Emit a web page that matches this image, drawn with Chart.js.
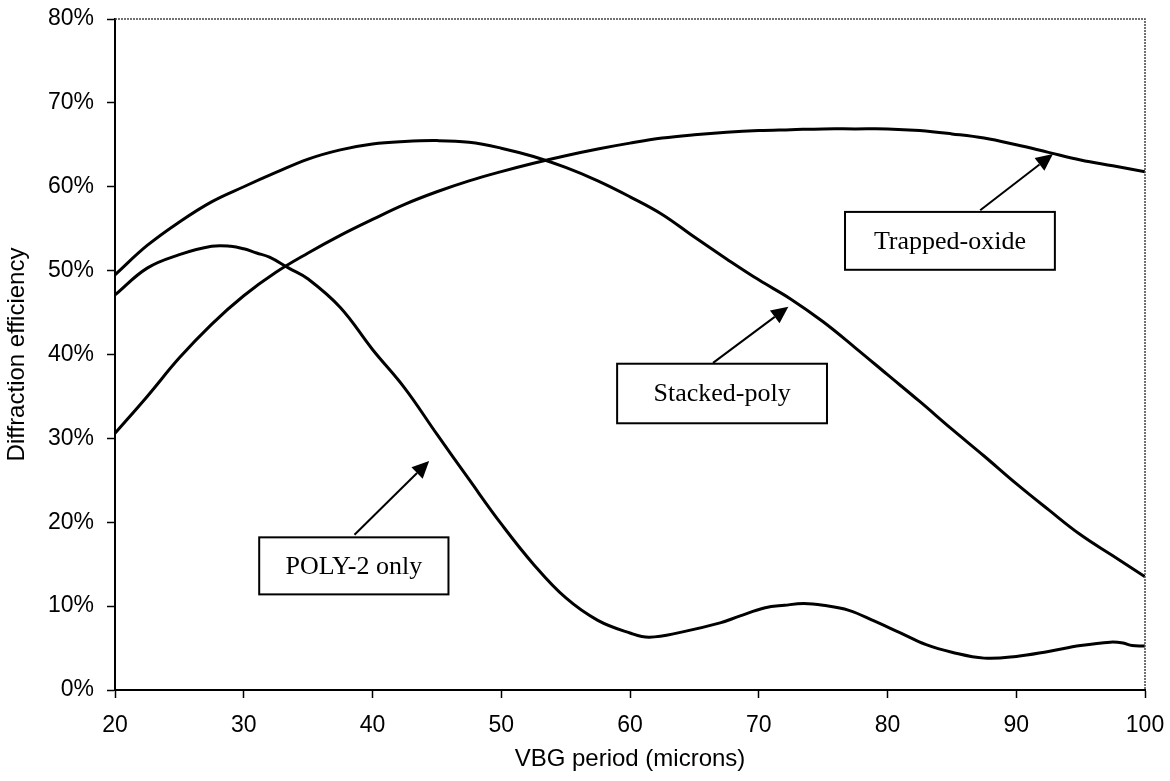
<!DOCTYPE html>
<html>
<head>
<meta charset="utf-8">
<script src="https://cdn.jsdelivr.net/npm/chart.js@4.4.0/dist/chart.umd.min.js"></script>
<style>
  html, body { margin: 0; padding: 0; background: #fff; }
  #wrap { width: 1170px; height: 781px; }
</style>
</head>
<body>
<div id="wrap"><canvas id="graph-line"></canvas></div>
<script>
// VBG period (microns) and diffraction efficiency (%)
const periods = [20, 22.5, 25, 27.5, 30, 32.5, 35, 37.5, 40, 42.5, 45, 47.5, 50, 52.5, 55, 57.5,
  60, 62.5, 65, 67.5, 70, 72.5, 75, 77.5, 80, 82.5, 85, 87.5, 90, 92.5, 95, 97.5, 100]

const stackedPoly = [49.5, 53.0, 55.8, 58.2, 60.0, 61.7, 63.3, 64.4, 65.1, 65.4, 65.5, 65.3, 64.6, 63.6, 62.3, 60.7,
  58.8, 56.7, 54.0, 51.4, 48.9, 46.6, 43.9, 40.8, 37.6, 34.4, 31.1, 27.9, 24.6, 21.5, 18.5, 16.0, 13.5]

const trappedOxide = [30.6, 35.0, 39.6, 43.6, 47.0, 49.8, 52.1, 54.2, 56.1, 57.9, 59.4, 60.7, 61.8, 62.8, 63.7, 64.5,
  65.2, 65.8, 66.2, 66.5, 66.7, 66.8, 66.9, 66.9, 66.9, 66.7, 66.3, 65.8, 65.0, 64.1, 63.2, 62.5, 61.8]

const poly2Periods = [20, 22.5, 25, 27.5, 29, 30, 31, 32, 33.5, 35, 37.5, 40, 42.5, 45, 47.5, 50, 52.5, 55, 57.5,
  60, 61.5, 64, 67, 68.5, 70.5, 72, 73.5, 75, 77, 79, 81, 83, 85, 87.5, 90, 92.5, 95, 97.3, 98.3, 99, 100]

const poly2Only = [47.1, 50.3, 51.9, 52.9, 52.9, 52.6, 52.1, 51.6, 50.3, 49.0, 45.6, 40.6, 36.0, 30.5, 25.1, 19.8, 15.0, 11.0, 8.3,
  6.8, 6.3, 6.9, 8.0, 8.8, 9.8, 10.1, 10.3, 10.1, 9.5, 8.2, 6.8, 5.4, 4.5, 3.8, 4.0, 4.6, 5.3, 5.7, 5.6, 5.3, 5.25]

const yTicks = [0, 10, 20, 30, 40, 50, 60, 70, 80]

function toPoints(xs, ys) {
  return xs.map((x, i) => ({x: x, y: ys[i]}))
}

// callout boxes, in data units
const callouts = [
  {text: 'Trapped-oxide', box: [76.7, 57.0, 93.0, 50.1], from: [87.2, 57.2], to: [92.85, 63.9]},
  {text: 'Stacked-poly', box: [59.0, 38.9, 75.3, 31.8], from: [66.45, 39.0], to: [72.3, 45.7]},
  {text: 'POLY-2 only', box: [31.2, 18.2, 45.9, 11.4], from: [38.6, 18.5], to: [44.4, 27.3]}
]

const calloutPlugin = {
  id: 'callouts',
  afterDatasetsDraw(chart) {
    const ctx = chart.ctx
    const xs = chart.scales.x
    const ys = chart.scales.y
    const a = chart.chartArea

    // top and right frame
    ctx.save()
    ctx.strokeStyle = '#444'
    ctx.lineWidth = 1.5
    ctx.setLineDash([2, 1])
    ctx.beginPath()
    ctx.moveTo(a.left, a.top)
    ctx.lineTo(a.right, a.top)
    ctx.lineTo(a.right, a.bottom)
    ctx.stroke()
    ctx.restore()

    callouts.forEach(c => {
      const x1 = xs.getPixelForValue(c.box[0]), y1 = ys.getPixelForValue(c.box[1])
      const x2 = xs.getPixelForValue(c.box[2]), y2 = ys.getPixelForValue(c.box[3])
      const fx = xs.getPixelForValue(c.from[0]), fy = ys.getPixelForValue(c.from[1])
      const tx = xs.getPixelForValue(c.to[0]), ty = ys.getPixelForValue(c.to[1])

      ctx.save()
      // arrow shaft
      const ang = Math.atan2(ty - fy, tx - fx)
      const headLen = 17, headW = 8
      const bx = tx - headLen * Math.cos(ang), by = ty - headLen * Math.sin(ang)
      ctx.strokeStyle = '#000'
      ctx.lineWidth = 2
      ctx.beginPath()
      ctx.moveTo(fx, fy)
      ctx.lineTo(bx, by)
      ctx.stroke()
      // arrow head
      ctx.fillStyle = '#000'
      ctx.beginPath()
      ctx.moveTo(tx, ty)
      ctx.lineTo(bx + headW * Math.sin(ang), by - headW * Math.cos(ang))
      ctx.lineTo(bx - headW * Math.sin(ang), by + headW * Math.cos(ang))
      ctx.closePath()
      ctx.fill()

      // box
      ctx.fillStyle = '#fff'
      ctx.fillRect(x1, y1, x2 - x1, y2 - y1)
      ctx.lineWidth = 2
      ctx.strokeRect(x1, y1, x2 - x1, y2 - y1)
      ctx.fillStyle = '#000'
      ctx.font = '26px "Liberation Serif", "Times New Roman", serif'
      ctx.textAlign = 'center'
      ctx.textBaseline = 'middle'
      ctx.fillText(c.text, (x1 + x2) / 2, (y1 + y2) / 2 + 1)
      ctx.restore()
    })
  }
}

const lineStyle = {
  borderColor: '#000',
  borderWidth: 3,
  pointRadius: 0,
  fill: false,
  tension: 0.4
}

const data = {
  datasets: [
    Object.assign({label: 'Stacked-poly', data: toPoints(periods, stackedPoly)}, lineStyle),
    Object.assign({label: 'Trapped-oxide', data: toPoints(periods, trappedOxide)}, lineStyle),
    Object.assign({label: 'POLY-2 only', data: toPoints(poly2Periods, poly2Only)}, lineStyle)
  ]
}

const tickFont = {family: '"Liberation Sans", Arial, sans-serif', size: 23}
const titleFont = {family: '"Liberation Sans", Arial, sans-serif', size: 24}

const config = {
  type: 'line',
  data: data,
  options: {
    responsive: true,
    maintainAspectRatio: false,
    animation: false,
    layout: {padding: {top: 19, right: 25, left: 0, bottom: 0}},
    plugins: {legend: {display: false}, tooltip: {enabled: false}},
    scales: {
      x: {
        type: 'linear',
        min: 20,
        max: 100,
        afterFit(scale) {
          scale.height = 91
          scale.paddingLeft = 0
          scale.paddingRight = 0
        },
        ticks: {stepSize: 10, color: '#000', font: tickFont, padding: 14, maxRotation: 0},
        grid: {drawOnChartArea: false, drawTicks: true, tickLength: 8, color: '#000', tickWidth: 1.5},
        border: {display: true, color: '#000', width: 2},
        title: {display: true, text: 'VBG period (microns)', color: '#000', font: titleFont, padding: {top: 0, bottom: 7}}
      },
      y: {
        type: 'linear',
        min: 0,
        max: 80,
        afterFit(scale) {
          scale.width = 115
          scale.paddingTop = 0
          scale.paddingBottom = 0
        },
        afterBuildTicks(scale) { scale.ticks = yTicks.map(v => ({value: v})) },
        ticks: {color: '#000', font: tickFont, padding: 13, callback: v => v + '%'},
        grid: {drawOnChartArea: false, drawTicks: true, tickLength: 8, color: '#000', tickWidth: 1.5},
        border: {display: true, color: '#000', width: 2},
        title: {display: true, text: 'Diffraction efficiency', color: '#000', font: titleFont, padding: {top: 3, bottom: 0}}
      }
    }
  },
  plugins: [calloutPlugin]
}

let chart = new Chart(document.querySelector('#graph-line'), config)
</script>
</body>
</html>
